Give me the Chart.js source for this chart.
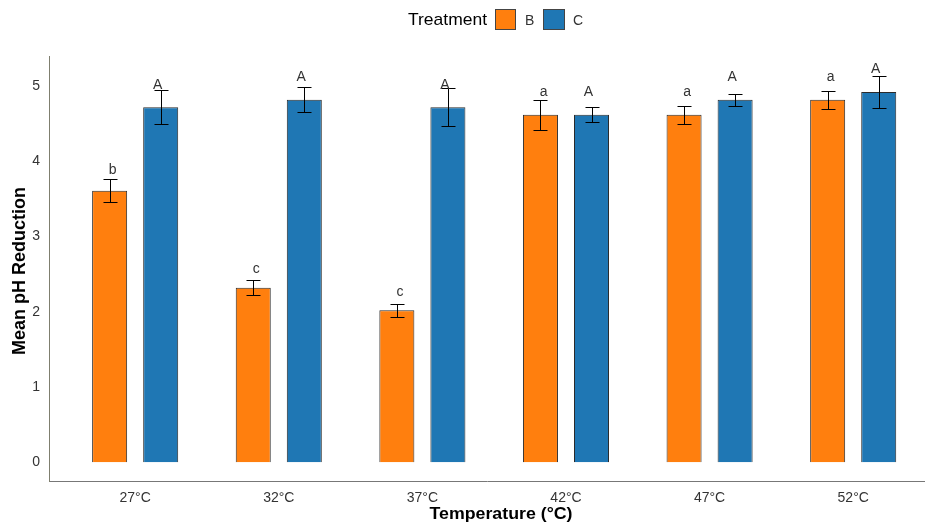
<!DOCTYPE html>
<html>
<head>
<meta charset="utf-8">
<script src="https://cdn.jsdelivr.net/npm/chart.js@4.4.0/dist/chart.umd.min.js"></script>
<style>
  html, body { margin: 0; padding: 0; background: #fff; }
  #wrap { width: 925px; height: 524px; }
</style>
</head>
<body>
<div id="wrap"><canvas id="chart" width="925" height="524"></canvas></div>
<script>
// datos
var temperatures = ["27°C", "32°C", "37°C", "42°C", "47°C", "52°C"];
var meanB = [3.61, 2.32, 2.02, 4.62, 4.62, 4.82];
var meanC = [4.72, 4.82, 4.72, 4.62, 4.82, 4.92];
var errB = [0.15, 0.10, 0.085, 0.20, 0.12, 0.12];
var errC = [0.23, 0.17, 0.25, 0.10, 0.08, 0.21];
var lettersB = ["b", "c", "c", "a", "a", "a"];
var lettersC = ["A", "A", "A", "A", "A", "A"];
var yTicks = [0, 1, 2, 3, 4, 5];

var colorB = "#FF7F0E";
var colorC = "#1F77B4";
var font = "'Liberation Sans', Arial, sans-serif";

// texto ajustado horizontalmente a un ancho dado
function drawFit(ctx, text, x, y, width, align) {
  var w = ctx.measureText(text).width;
  var sx = width / w;
  ctx.save();
  ctx.translate(x, y);
  ctx.scale(sx, 1);
  ctx.textAlign = align;
  ctx.fillText(text, 0, 0);
  ctx.restore();
}

// barras de error, letras, titulos y leyenda
var extras = {
  id: "extras",
  afterDatasetsDraw: function (chart) {
    var ctx = chart.ctx;
    var y = chart.scales.y;
    var errs = [errB, errC];
    var letters = [lettersB, lettersC];
    ctx.save();
    chart.data.datasets.forEach(function (ds, i) {
      var meta = chart.getDatasetMeta(i);
      meta.data.forEach(function (bar, j) {
        var v = ds.data[j];
        var e = errs[i][j];
        var top = Math.round(y.getPixelForValue(v + e)) + 0.5;
        var bot = Math.round(y.getPixelForValue(v - e)) + 0.5;
        var bx = Math.round(bar.x) + 0.5;
        ctx.strokeStyle = "#000";
        ctx.lineWidth = 1;
        ctx.beginPath();
        ctx.moveTo(bx, top); ctx.lineTo(bx, bot);
        ctx.moveTo(bx - 7, top); ctx.lineTo(bx + 7, top);
        ctx.moveTo(bx - 7, bot); ctx.lineTo(bx + 7, bot);
        ctx.stroke();
        // letra
        var cx = chart.scales.x.getPixelForValue(j);
        var lx = cx + (bar.x - cx) * 0.88;
        ctx.fillStyle = "#333";
        ctx.font = "14px " + font;
        ctx.textAlign = "center";
        ctx.textBaseline = "alphabetic";
        ctx.fillText(letters[i][j], lx, y.getPixelForValue(v * 1.02 + 0.15));
      });
    });
    ctx.restore();
  },
  afterDraw: function (chart) {
    var ctx = chart.ctx;
    ctx.save();
    ctx.textBaseline = "middle";
    // titulos de ejes
    ctx.fillStyle = "#000";
    ctx.font = "bold 17px " + font;
    drawFit(ctx, "Temperature (°C)", 501, 514, 143, "center");
    ctx.font = "bold 18px " + font;
    ctx.save();
    ctx.translate(20, 271);
    ctx.rotate(-Math.PI / 2);
    ctx.textAlign = "center";
    ctx.fillText("Mean pH Reduction", 0, 0);
    ctx.restore();
    // leyenda arriba
    ctx.font = "17px " + font;
    ctx.fillStyle = "#000";
    drawFit(ctx, "Treatment", 408, 20, 79, "left");
    ctx.strokeStyle = "#444"; ctx.lineWidth = 1;
    ctx.fillStyle = colorB; ctx.fillRect(495, 9, 21, 21);
    ctx.strokeRect(495.5, 9.5, 20, 20);
    ctx.fillStyle = colorC; ctx.fillRect(543, 9, 22, 21);
    ctx.strokeRect(543.5, 9.5, 21, 20);
    ctx.font = "14px " + font;
    ctx.fillStyle = "#333";
    ctx.textAlign = "left";
    ctx.fillText("B", 525, 21);
    ctx.fillText("C", 573, 21);
    ctx.restore();
  }
};

new Chart(document.getElementById("chart"), {
  type: "bar",
  data: {
    labels: temperatures,
    datasets: [
      { label: "B", data: meanB, backgroundColor: colorB, borderColor: "#2b2b2b", borderWidth: 1 },
      { label: "C", data: meanC, backgroundColor: colorC, borderColor: "#2b2b2b", borderWidth: 1 }
    ]
  },
  options: {
    responsive: false,
    animation: false,
    layout: { padding: { top: 56, right: 0, left: 0, bottom: 0 } },
    datasets: { bar: { categoryPercentage: 0.711, barPercentage: 0.686 } },
    plugins: { legend: { display: false }, tooltip: { enabled: false } },
    scales: {
      x: {
        grid: { display: false, drawTicks: false },
        border: { display: true, color: "#777", width: 1 },
        ticks: { color: "#333", font: { family: font, size: 14 }, padding: 9 },
        // margen de categoria como en ggplot (0.6 a la izquierda)
        afterBuildTicks: function (s) { s._startValue = -0.6; s._valueRange = 6.1; },
        afterFit: function (s) { s.height = 43; }
      },
      y: {
        min: -0.25,
        max: 5.4,
        afterBuildTicks: function (s) { s.ticks = yTicks.map(function (v) { return { value: v }; }); },
        grid: { display: false, drawTicks: false },
        border: { display: true, color: "#7f7f6f", width: 1 },
        ticks: { color: "#333", font: { family: font, size: 14 }, padding: 9 },
        afterFit: function (s) { s.width = 49; }
      }
    }
  },
  plugins: [extras]
});
</script>
</body>
</html>
